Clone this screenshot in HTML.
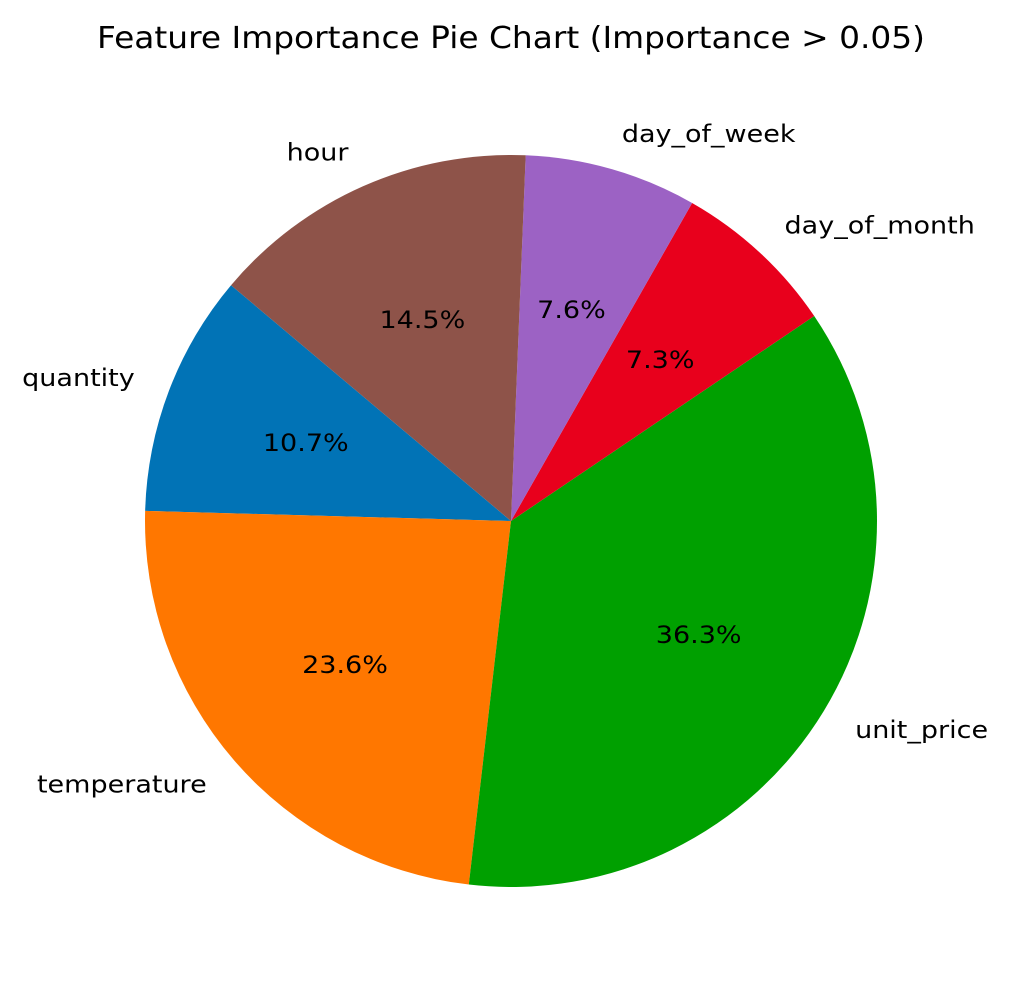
<!DOCTYPE html>
<html><head><meta charset="utf-8"><style>
body{margin:0;background:#fff;}
svg text{font-family:"DejaVu Sans","Liberation Sans",sans-serif;}
</style></head><body>
<svg id="chart" width="1010" height="1000" viewBox="0 0 1010 1000">
<rect width="1010" height="1000" fill="#fff"/>
<text id="title" x="511" y="48" text-anchor="middle" font-size="30" fill="#000">Feature Importance Pie Chart (Importance &gt; 0.05)</text>
<g id="slices"></g>
</svg>
<script>
const labels = ["quantity","temperature","unit_price","day_of_month","day_of_week","hour"];
const values = [10.7, 23.6, 36.3, 7.3, 7.6, 14.5];
const pctLabels = ["10.7%","23.6%","36.3%","7.3%","7.6%","14.5%"];
const colors = ["#0173b6","#ff7700","#00a000","#e8001c","#9c62c4","#8e5349"];
const cx = 511, cy = 521, R = 366, startAngle = 139.9;
const g = document.getElementById('slices');
const NS = "http://www.w3.org/2000/svg";
const total = values.reduce((a,b)=>a+b,0);
const STRETCH = 1.125;
function stretch(t, k){const w=t.getComputedTextLength(); t.setAttribute('textLength', w*k); t.setAttribute('lengthAdjust','spacingAndGlyphs');}
const title = document.getElementById('title');
title.setAttribute('textLength', 828); title.setAttribute('lengthAdjust','spacingAndGlyphs');
function pt(angDeg, r){const a=angDeg*Math.PI/180;return [cx+r*Math.cos(a), cy-r*Math.sin(a)];}
let ang = startAngle;
values.forEach((v,i)=>{
  const sweep = v/total*360;
  const a0 = ang, a1 = ang+sweep;
  const p0 = pt(a0,R), p1 = pt(a1,R);
  const large = sweep>180?1:0;
  const path = document.createElementNS(NS,'path');
  path.setAttribute('d',`M${cx},${cy} L${p0[0]},${p0[1]} A${R},${R} 0 ${large} 0 ${p1[0]},${p1[1]} Z`);
  path.setAttribute('fill',colors[i]);
  
  
  g.appendChild(path);
  const mid = (a0+a1)/2;
  const lp = pt(mid, R*1.1);
  const t = document.createElementNS(NS,'text');
  t.setAttribute('x',lp[0]); t.setAttribute('y',lp[1]+8);
  t.setAttribute('font-size','24');
  t.setAttribute('text-anchor', Math.cos(mid*Math.PI/180)>=0?'start':'end');
  t.textContent = labels[i];
  
  
  g.appendChild(t);
  stretch(t, STRETCH);
  const pp = pt(mid, R*0.6);
  const pt2 = document.createElementNS(NS,'text');
  pt2.setAttribute('x',pp[0]); pt2.setAttribute('y',pp[1]+8);
  pt2.setAttribute('font-size','24');
  pt2.setAttribute('text-anchor','middle');
  pt2.textContent = pctLabels[i];
  
  
  g.appendChild(pt2);
  stretch(pt2, STRETCH);
  ang = a1;
});
</script>
</body></html>
